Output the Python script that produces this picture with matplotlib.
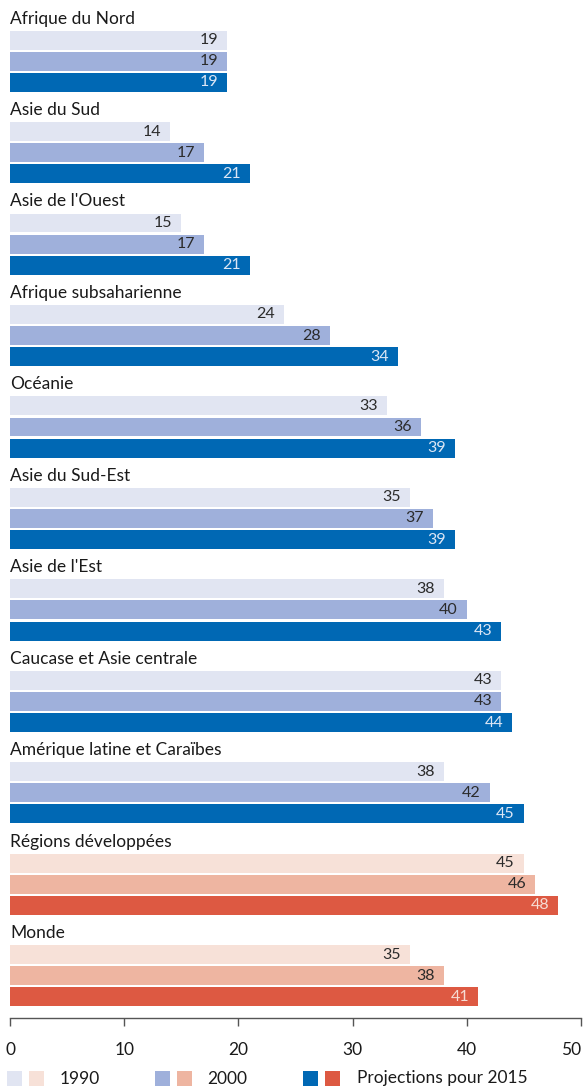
import matplotlib
matplotlib.use("Agg")
import matplotlib.pyplot as plt
from matplotlib.patches import Rectangle

regions = ["Afrique du Nord", "Asie du Sud", "Asie de l'Ouest", "Afrique subsaharienne",
           "Océanie", "Asie du Sud-Est", "Asie de l'Est", "Caucase et Asie centrale",
           "Amérique latine et Caraïbes", "Régions développées", "Monde"]
v1990 = [19, 14, 15, 24, 33, 35, 38, 43, 38, 45, 35]
v2000 = [19, 17, 17, 28, 36, 37, 40, 43, 42, 46, 38]
v2015 = [19, 21, 21, 34, 39, 39, 43, 44, 45, 48, 41]
series_labels = ["1990", "2000", "Projections pour 2015"]
xticks = [0, 10, 20, 30, 40, 50]

blues = ["#e1e5f2", "#9fb0db", "#0068b4"]
reds = ["#f7e1d8", "#eeb5a1", "#dd5942"]
red_groups = {"Régions développées", "Monde"}

plt.rcParams['font.family'] = ['Lato', 'DejaVu Sans']

W, H = 584, 1089
fig = plt.figure(figsize=(W / 100, H / 100), dpi=100)
ax_top_px, ax_bot_px = 0, 1018
ax_left_px, ax_right_px = 10, 581
ax = fig.add_axes([ax_left_px / W, 1 - ax_bot_px / H,
                   (ax_right_px - ax_left_px) / W, (ax_bot_px - ax_top_px) / H])

G = 4.34      # group pitch in bar units
bh = 0.9
series = [v1990, v2000, v2015]
for g, name in enumerate(regions):
    cols = reds if name in red_groups else blues
    base = g * G
    ax.text(0, base - 1.02, name, ha="left", va="center", fontsize=12.5, color="#1a1a1a")
    for k, vals in enumerate(series):
        y = base + k
        ax.barh(y, vals[g], height=bh, color=cols[k], left=0)
        tc = "#dce6f5" if k == 2 else "#2b2b2b"
        if k == 2 and name in red_groups:
            tc = "#f6dcd4"
        ax.annotate(str(vals[g]), xy=(vals[g], y), xytext=(-6.5, 0),
                    textcoords="offset points", ha="right", va="center",
                    fontsize=11.5, color=tc)

ax.set_xlim(0, 50)
ax.set_ylim(10 * G + 2 + 1.0, -1.9)
ax.set_xticks(xticks)
labels = ax.set_xticklabels([str(t) for t in xticks], fontsize=12.5, color="#1a1a1a")
labels[-1].set_ha("right")
labels[-1].set_x(50)
ax.set_yticks([])
for s in ["top", "right", "left"]:
    ax.spines[s].set_visible(False)
ax.spines["bottom"].set_color("#555555")
ax.spines["bottom"].set_linewidth(1.0)
ax.tick_params(axis="x", direction="out", length=6, width=1, color="#555555", pad=11)

# legend (manual)
def px_rect(x, y, w, h, c):
    fig.add_artist(Rectangle((x / W, 1 - (y + h) / H), w / W, h / H,
                             transform=fig.transFigure, color=c, lw=0))

ly = 1071
pairs = [(7, 29, 60), (155, 177, 207), (303, 325, 357)]
for i, (x1, x2, xt) in enumerate(pairs):
    px_rect(x1, ly, 15, 15, blues[i])
    px_rect(x2, ly, 15, 15, reds[i])
    fig.text(xt / W, 1 - (ly + 7.5) / H, series_labels[i], ha="left", va="center",
             fontsize=12.5, color="#1a1a1a")

fig.savefig("out.png", dpi=100)
